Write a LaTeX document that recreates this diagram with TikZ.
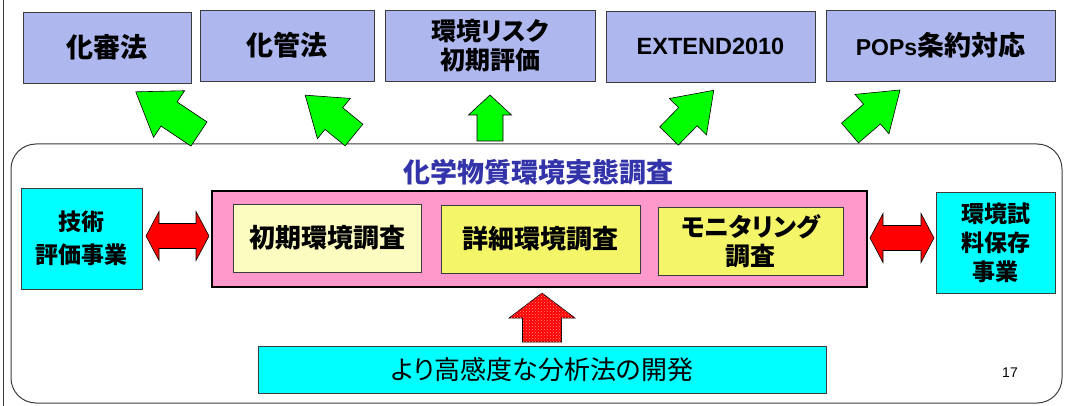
\documentclass[tikz,border=0pt]{standalone}
\usepackage{fontspec}
\newfontfamily\jp{Noto Sans CJK JP}[RawFeature={+palt}]
\newfontfamily\ar{Liberation Sans}
\usetikzlibrary{patterns,calc}
\definecolor{topblue}{RGB}{174,184,238}
\definecolor{pinkbg}{RGB}{255,153,204}
\definecolor{paleyel}{RGB}{252,252,192}
\definecolor{yel}{RGB}{245,245,105}
\definecolor{titleblue}{RGB}{51,51,170}
\definecolor{edge}{RGB}{60,60,60}
\definecolor{aqua}{RGB}{0,255,255}
% style, tail x, tail y, angle, length, head length, head half width, shaft half width
\newcommand\blkarr[8]{\draw[#1,shift={(#2,#3)},rotate=#4] (0,-#8) -- (#5-#6,-#8) -- (#5-#6,-#7) -- (#5,0) -- (#5-#6,#7) -- (#5-#6,#8) -- (0,#8) -- cycle;}
% left tip x, right tip x, centre y
\newcommand\dblarr[3]{\draw[redarrow] (#1,#3) -- ++(13,-24.5) -- ++(0,12) -- (#2-13,#3-12.5) -- ++(0,-12) -- (#2,#3) -- ++(-13,24.5) -- ++(0,-12) -- (#1+13,#3+12.5) -- ++(0,12) -- cycle;}
\begin{document}
\begin{tikzpicture}[x=1pt,y=-1pt,
  box/.style={draw=edge, line width=0.8pt, inner sep=0pt, align=center},
  topbox/.style={box, fill=topblue, font=\jp\bfseries\fontsize{27}{30}\selectfont},
  inbox/.style={box, font=\jp\bfseries\fontsize{26}{30}\selectfont},
  sidebox/.style={box, fill=aqua, font=\jp\bfseries\fontsize{23}{30}\selectfont},
  greenarrow/.style={fill=green, draw=black, line width=0.6pt, line join=miter},
  redarrow/.style={fill=red, draw=black, line width=0.6pt},
  redup/.style={fill=red, draw=black, line width=0.6pt, postaction={pattern=crosshatch dots, pattern color=red!45!white}}]
\useasboundingbox (0,0) rectangle (1068,406);
\draw[edge, line width=0.8pt] (3,0) -- (3,406);
% top boxes
\node[topbox, minimum width=168, minimum height=71] (kashin) at (107,47.5) {化審法};
\node[topbox, minimum width=174, minimum height=71] (kakan) at (287,45.5) {化管法};
\node[topbox, minimum width=210, minimum height=71, font=\jp\bfseries\fontsize{25}{29}\selectfont] (risk) at (490,45.5) {環境リスク\\初期評価};
\node[topbox, minimum width=209, minimum height=71, font=\ar\bfseries\fontsize{23.5}{26}\selectfont] (extend) at (710.5,46.5) {EXTEND2010};
\node[topbox, minimum width=229, minimum height=71] (pops) at (940.5,45.5) {{\ar\fontsize{23}{26}\selectfont POPs}条約対応};
% frame
\node[draw=edge, line width=1pt, rounded corners=25, minimum width=1051, minimum height=259, inner sep=0pt] (frame) at (536.5,273.5) {};
% green arrows
\blkarr{greenarrow}{199}{134}{146.3}{76}{40}{28}{14.5}
\blkarr{greenarrow}{354}{135}{140.8}{63}{37}{26}{14}
\blkarr{greenarrow}{490}{141}{90}{46}{20}{21.5}{13}
\blkarr{greenarrow}{669}{136}{45.6}{64}{37}{26}{13}
\blkarr{greenarrow}{850}{133}{40.7}{66}{37}{26}{13}
% title
\node[font=\jp\bfseries\fontsize{27}{30}\selectfont, text=titleblue, inner sep=0pt] (title) at (538,172) {化学物質環境実態調査};
% pink container
\node[draw=black, line width=2.6pt, fill=pinkbg, minimum width=655, minimum height=96, inner sep=0pt] (pink) at (539.5,239) {};
\node[inbox, fill=paleyel, minimum width=188, minimum height=68] (shoki) at (327,238) {初期環境調査};
\node[inbox, fill=yel, minimum width=199, minimum height=68] (shosai) at (540.5,239) {詳細環境調査};
\node[inbox, fill=yel, minimum width=185, minimum height=68, font=\jp\bfseries\fontsize{25}{29}\selectfont] (moni) at (750.5,241) {モニタリング\\調査};
% side boxes
\node[sidebox, minimum width=121, minimum height=101, font=\jp\bfseries\fontsize{23}{33}\selectfont] (gijutsu) at (81.5,238.5) {技術\\評価事業};
\node[sidebox, minimum width=119, minimum height=101, font=\jp\bfseries\fontsize{23}{29}\selectfont] (shiryo) at (995.5,242.5) {環境試\\料保存\\事業};
% red double arrows
\dblarr{146}{209}{236}
\dblarr{870}{934}{238}
% bottom box and red up arrow
\node[box, fill=aqua, minimum width=568, minimum height=47, font=\jp\fontsize{26}{30}\selectfont] (kaihatsu) at (542,369.5) {より高感度な分析法の開発};
\blkarr{redup}{542}{342}{90}{49}{25}{33}{19.5}
\node[font=\ar\fontsize{14}{16}\selectfont, inner sep=0pt] (page) at (1010,373) {17};
\end{tikzpicture}
\end{document}
